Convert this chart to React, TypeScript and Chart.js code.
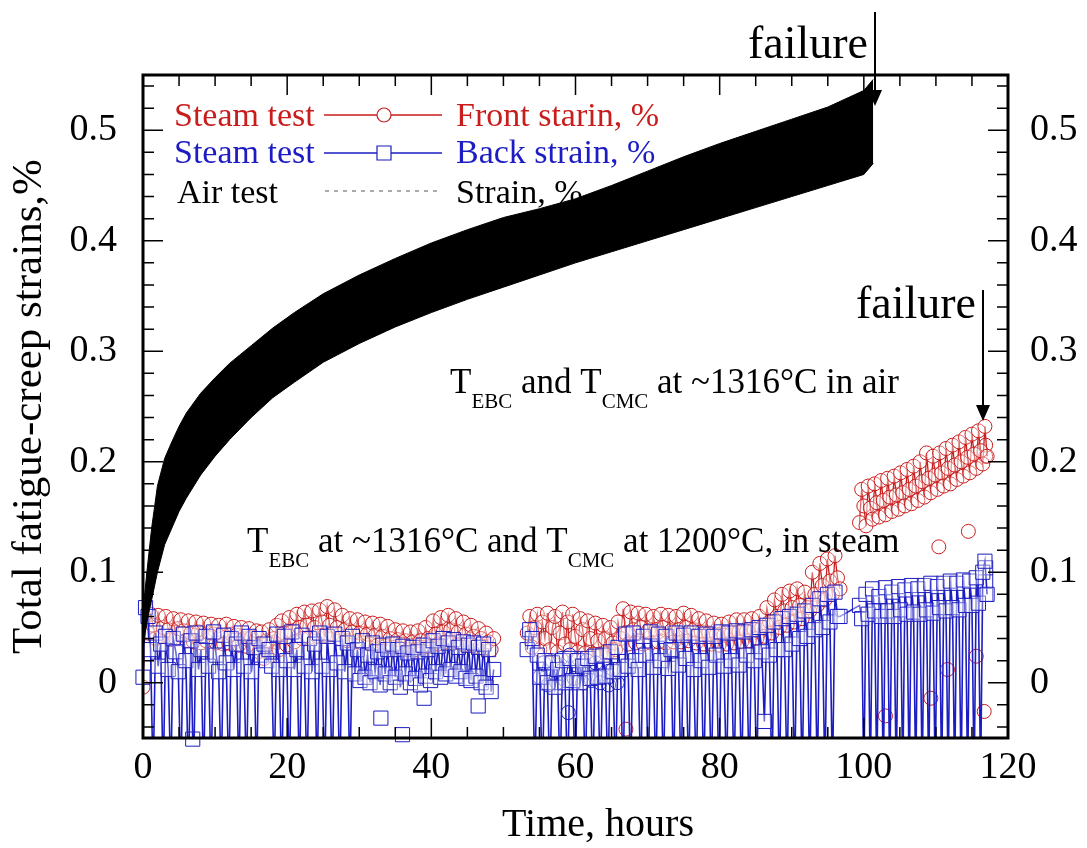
import React, { useEffect, useRef } from 'react';
import { Chart, registerables } from 'chart.js';

Chart.register(...registerables);

const SERIF = "'Liberation Serif', 'Times New Roman', Times, serif";
const RED = '#c91d1d';
const BLUE = '#1c1cc2';
const D = -0.09; // back-strain readings that fall below the plotted range

// ---- axes ----
const xTickLabels = [0, 20, 40, 60, 80, 100, 120];
const yTickLabels = [0, 0.1, 0.2, 0.3, 0.4, 0.5];
const xTitle = 'Time, hours';
const yTitle = 'Total fatigue-creep strains,%';

// ---- legend ----
const legendLeft = ['Steam test', 'Steam test', 'Air test'];
const legendRight = ['Front starin, %', 'Back strain, %', 'Strain, %'];

// ---- air test (envelope of the strain cycles) ----
const airTimes = [0, 0.3, 0.7, 1.2, 2, 3, 4, 5, 6, 8,
  10, 12, 15, 18, 21, 25, 30, 35, 40, 45,
  50, 55, 60, 65, 70, 75, 80, 85, 90, 95,
  100, 101.3];
const airUpper = [0.06, 0.085, 0.11, 0.14, 0.178, 0.203, 0.218, 0.232, 0.244, 0.262,
  0.276, 0.289, 0.305, 0.321, 0.335, 0.352, 0.369, 0.384, 0.398, 0.41,
  0.421, 0.429, 0.438, 0.45, 0.463, 0.476, 0.488, 0.499, 0.51, 0.521,
  0.536, 0.546];
const airLower = [0.03, 0.045, 0.06, 0.075, 0.1, 0.125, 0.14, 0.155, 0.167, 0.188,
  0.205, 0.22, 0.24, 0.258, 0.272, 0.29, 0.307, 0.322, 0.335, 0.347,
  0.358, 0.369, 0.38, 0.39, 0.4, 0.41, 0.42, 0.43, 0.44, 0.45,
  0.46, 0.47];

// ---- steam test, segment A (0 - 48.7 h) ----
const steamTimesA = [0, 0.35, 0.7, 1.05, 1.4, 1.75, 2.1, 2.45, 2.8, 3.15,
  3.5, 3.85, 4.2, 4.55, 4.9, 5.25, 5.6, 5.95, 6.3, 6.65,
  7, 7.35, 7.7, 8.05, 8.4, 8.75, 9.1, 9.45, 9.8, 10.15,
  10.5, 10.85, 11.2, 11.55, 11.9, 12.25, 12.6, 12.95, 13.3, 13.65,
  14, 14.35, 14.7, 15.05, 15.4, 15.75, 16.1, 16.45, 16.8, 17.15,
  17.5, 17.85, 18.2, 18.55, 18.9, 19.25, 19.6, 19.95, 20.3, 20.65,
  21, 21.35, 21.7, 22.05, 22.4, 22.75, 23.1, 23.45, 23.8, 24.15,
  24.5, 24.85, 25.2, 25.55, 25.9, 26.25, 26.6, 26.95, 27.3, 27.65,
  28, 28.35, 28.7, 29.05, 29.4, 29.75, 30.1, 30.45, 30.8, 31.15,
  31.5, 31.85, 32.2, 32.55, 32.9, 33.25, 33.6, 33.95, 34.3, 34.65,
  35, 35.35, 35.7, 36.05, 36.4, 36.75, 37.1, 37.45, 37.8, 38.15,
  38.5, 38.85, 39.2, 39.55, 39.9, 40.25, 40.6, 40.95, 41.3, 41.65,
  42, 42.35, 42.7, 43.05, 43.4, 43.75, 44.1, 44.45, 44.8, 45.15,
  45.5, 45.85, 46.2, 46.55, 46.9, 47.25, 47.6, 47.95, 48.3, 48.65];
const frontA = [-0.004, 0.068, 0.045, 0.062, 0.052, 0.040, 0.061, 0.042, 0.050, 0.060,
  0.048, 0.039, 0.058, 0.040, 0.049, 0.057, 0.047, 0.038, 0.056, 0.045,
  0.037, 0.055, 0.046, 0.036, 0.054, 0.038, 0.045, 0.053, 0.044, 0.036,
  0.052, 0.043, 0.035, 0.053, 0.036, 0.044, 0.051, 0.043, 0.034, 0.050,
  0.040, 0.033, 0.049, 0.041, 0.031, 0.047, 0.028, 0.046, 0.022, 0.038,
  0.048, 0.025, 0.040, 0.052, 0.030, 0.056, 0.045, 0.034, 0.059, 0.046,
  0.037, 0.062, 0.050, 0.040, 0.064, 0.052, 0.041, 0.065, 0.050, 0.042,
  0.066, 0.055, 0.043, 0.069, 0.052, 0.044, 0.066, 0.050, 0.040, 0.061,
  0.048, 0.038, 0.058, 0.046, 0.037, 0.057, 0.045, 0.036, 0.055, 0.044,
  0.035, 0.054, 0.043, 0.034, 0.053, 0.042, 0.033, 0.051, 0.040, 0.032,
  0.048, 0.039, 0.031, 0.047, 0.038, 0.030, 0.046, 0.037, 0.030, 0.047,
  0.038, 0.032, 0.050, 0.040, 0.033, 0.056, 0.044, 0.035, 0.059, 0.046,
  0.037, 0.061, 0.048, 0.036, 0.058, 0.046, 0.035, 0.055, 0.044, 0.034,
  0.052, 0.042, 0.033, 0.049, 0.040, 0.031, 0.045, 0.037, 0.030, 0.040];
const backA = [0.005, 0.068, 0.060, 0.030, D, 0.045, 0.015, 0.035, D, 0.042,
  0.012, D, 0.040, 0.028, 0.010, D, 0.044, 0.020, D, 0.038,
  D, 0.045, 0.012, 0.030, D, 0.042, 0.015, D, 0.046, 0.025,
  0.010, D, 0.043, 0.018, D, 0.040, 0.012, 0.035, D, 0.045,
  0.015, D, 0.042, 0.010, 0.032, D, 0.040, 0.025, 0.035, 0.020,
  0.030, 0.015, D, 0.044, 0.012, D, 0.042, 0.020, D, 0.046,
  0.012, 0.030, D, 0.043, 0.015, D, 0.040, 0.010, 0.035, D,
  0.045, 0.015, D, 0.042, 0.012, D, 0.044, 0.018, D, 0.040,
  0.010, 0.036, D, 0.042, 0.008, 0.030, 0.002, 0.038, 0.005, 0.025,
  0.000, 0.036, 0.010, 0.028, -0.002, 0.034, 0.008, 0.030, 0.000, 0.035,
  0.005, 0.030, -0.004, 0.033, 0.008, 0.027, 0.000, 0.032, 0.004, 0.028,
  -0.002, 0.034, 0.006, 0.030, 0.002, 0.038, 0.010, 0.033, 0.005, 0.040,
  0.008, 0.036, 0.012, 0.039, 0.006, 0.032, 0.010, 0.037, 0.004, 0.034,
  0.002, 0.036, 0.006, 0.032, 0.000, 0.035, -0.004, 0.030, -0.008, 0.012];

// ---- steam test, segment B (53.3 - 96.7 h) ----
const steamTimesB = [53.3, 53.65, 54, 54.35, 54.7, 55.05, 55.4, 55.75, 56.1, 56.45,
  56.8, 57.15, 57.5, 57.85, 58.2, 58.55, 58.9, 59.25, 59.6, 59.95,
  60.3, 60.65, 61, 61.35, 61.7, 62.05, 62.4, 62.75, 63.1, 63.45,
  63.8, 64.15, 64.5, 64.85, 65.2, 65.55, 65.9, 66.25, 66.6, 66.95,
  67.3, 67.65, 68, 68.35, 68.7, 69.05, 69.4, 69.75, 70.1, 70.45,
  70.8, 71.15, 71.5, 71.85, 72.2, 72.55, 72.9, 73.25, 73.6, 73.95,
  74.3, 74.65, 75, 75.35, 75.7, 76.05, 76.4, 76.75, 77.1, 77.45,
  77.8, 78.15, 78.5, 78.85, 79.2, 79.55, 79.9, 80.25, 80.6, 80.95,
  81.3, 81.65, 82, 82.35, 82.7, 83.05, 83.4, 83.75, 84.1, 84.45,
  84.8, 85.15, 85.5, 85.85, 86.2, 86.55, 86.9, 87.25, 87.6, 87.95,
  88.3, 88.65, 89, 89.35, 89.7, 90.05, 90.4, 90.75, 91.1, 91.45,
  91.8, 92.15, 92.5, 92.85, 93.2, 93.55, 93.9, 94.25, 94.6, 94.95,
  95.3, 95.65, 96, 96.35, 96.7];
const frontB = [0.045, 0.060, 0.032, 0.050, 0.062, 0.030, 0.055, 0.040, 0.063, 0.030,
  0.050, 0.060, 0.028, 0.045, 0.064, 0.035, 0.055, 0.030, 0.062, 0.042,
  0.028, 0.058, 0.048, 0.027, 0.056, 0.040, 0.026, 0.054, 0.038, 0.025,
  0.052, 0.040, 0.027, 0.050, 0.036, 0.030, 0.055, 0.040, 0.067, 0.045,
  0.035, 0.064, 0.048, 0.036, 0.063, 0.050, 0.035, 0.062, 0.047, 0.036,
  0.060, 0.048, 0.037, 0.062, 0.050, 0.036, 0.061, 0.047, 0.037, 0.060,
  0.048, 0.037, 0.063, 0.050, 0.038, 0.061, 0.048, 0.036, 0.058, 0.046,
  0.035, 0.056, 0.045, 0.035, 0.054, 0.044, 0.034, 0.053, 0.043, 0.035,
  0.055, 0.045, 0.036, 0.057, 0.046, 0.037, 0.057, 0.047, 0.038, 0.058,
  0.048, 0.040, 0.060, 0.050, 0.042, 0.068, 0.055, 0.045, 0.075, 0.060,
  0.050, 0.080, 0.065, 0.052, 0.083, 0.068, 0.055, 0.085, 0.070, 0.058,
  0.082, 0.068, 0.065, 0.100, 0.080, 0.070, 0.108, 0.088, 0.075, 0.112,
  0.092, 0.080, 0.115, 0.095, 0.085];
const backB = [0.030, 0.048, 0.040, D, 0.025, 0.005, D, 0.020, 0.000, D,
  0.018, -0.004, 0.012, D, 0.020, 0.000, D, 0.022, 0.002, D,
  0.020, 0.000, 0.015, D, 0.022, 0.004, D, 0.024, 0.005, D,
  0.025, 0.006, D, 0.028, 0.010, D, 0.032, 0.012, D, 0.044,
  0.015, D, 0.045, 0.020, 0.012, D, 0.042, 0.025, D, 0.046,
  0.014, D, 0.044, 0.020, D, 0.042, 0.013, 0.030, D, 0.045,
  0.016, D, 0.043, 0.022, D, 0.045, 0.012, D, 0.042, 0.020,
  D, 0.044, 0.014, D, 0.042, 0.025, D, 0.046, 0.015, D,
  0.045, 0.020, D, 0.047, 0.016, D, 0.046, 0.025, D, 0.048,
  0.020, D, 0.050, 0.028, -0.035, 0.052, 0.025, D, 0.055, 0.030,
  D, 0.058, 0.030, D, 0.060, 0.035, D, 0.062, 0.040, D,
  0.065, 0.042, D, 0.070, 0.048, D, 0.076, 0.050, D, 0.080,
  0.055, D, 0.082, 0.060, 0.060];

// ---- steam test, segment C (99.4 - 117.1 h) ----
const steamTimesC = [99.4, 99.7, 100, 100.3, 100.6, 100.9, 101.2, 101.5, 101.8, 102.1,
  102.4, 102.7, 103, 103.3, 103.6, 103.9, 104.2, 104.5, 104.8, 105.1,
  105.4, 105.7, 106, 106.3, 106.6, 106.9, 107.2, 107.5, 107.8, 108.1,
  108.4, 108.7, 109, 109.3, 109.6, 109.9, 110.2, 110.5, 110.8, 111.1,
  111.4, 111.7, 112, 112.3, 112.6, 112.9, 113.2, 113.5, 113.8, 114.1,
  114.4, 114.7, 115, 115.3, 115.6, 115.9, 116.2, 116.5, 116.8, 117.1];
const frontC = [0.145, 0.175, 0.160, 0.142, 0.178, 0.158, 0.148, 0.180, 0.163, 0.150,
  0.183, 0.165, 0.152, 0.185, 0.168, 0.155, 0.187, 0.170, 0.157, 0.190,
  0.172, 0.160, 0.193, 0.175, 0.162, 0.196, 0.178, 0.165, 0.200, 0.182,
  0.168, 0.208, 0.185, 0.172, 0.205, 0.188, 0.175, 0.208, 0.190, 0.178,
  0.212, 0.194, 0.180, 0.215, 0.197, 0.184, 0.218, 0.200, 0.187, 0.222,
  0.204, 0.190, 0.225, 0.207, 0.194, 0.228, 0.210, 0.198, 0.232, 0.205];
const backC = [0.070, 0.058, D, 0.080, 0.062, D, 0.085, 0.065, D, 0.078,
  0.060, D, 0.086, 0.065, D, 0.082, 0.060, D, 0.087, 0.066,
  D, 0.084, 0.062, D, 0.088, 0.064, D, 0.085, 0.062, D,
  0.088, 0.066, D, 0.090, 0.063, D, 0.087, 0.068, D, 0.090,
  0.065, D, 0.092, 0.068, D, 0.090, 0.066, D, 0.093, 0.070,
  D, 0.092, 0.070, D, 0.095, 0.072, D, 0.100, 0.110, 0.080];

// ---- isolated points ----
const frontOutlierTimes = [67.0, 103.0, 109.3, 110.4, 111.6, 114.5, 115.6, 116.7, 116.9, 116.9];
const frontOutlierValues = [-0.042, -0.030, -0.014, 0.123, 0.012, 0.137, 0.024, -0.026, 0.205, 0.215];
const backOutlierTimes = [6.9, 33.0, 36.0, 39.0, 46.5, 116.9, 116.9, 116.9];
const backOutlierValues = [-0.051, -0.032, -0.047, -0.014, -0.021, 0.080, 0.092, 0.104];
const backCircleTimes = [55.0, 55.6, 56.2, 56.8, 57.4, 58.0, 58.6, 59.2, 59.8, 60.4,
  61.0, 61.6, 62.2, 62.8, 63.4, 64.0, 64.6, 65.2, 65.8];
const backCircleValues = [0.005, 0.018, -0.002, 0.020, 0.000, 0.022, 0.002, 0.025, 0.004, 0.022,
  0.000, 0.020, 0.002, 0.018, 0.000, 0.016, -0.002, 0.012, 0.000];
const backCircleLowTimes = [59.0];
const backCircleLowValues = [-0.027];

// ---- annotations ----
const failureLabel = 'failure';
const annotAir = [
  { t: 'T' }, { t: 'EBC', sub: true }, { t: ' and T' }, { t: 'CMC', sub: true }, { t: ' at ~1316°C in air' },
];
const annotSteam = [
  { t: 'T' }, { t: 'EBC', sub: true }, { t: ' at ~1316°C and T' }, { t: 'CMC', sub: true }, { t: ' at 1200°C, in steam' },
];

type Pt = { x: number; y: number | null };
const toPts = (ts: number[], vs: number[]): Pt[] => ts.map((t, i) => ({ x: t, y: vs[i] }));

function drawRich(ctx: CanvasRenderingContext2D, parts: { t: string; sub?: boolean }[], x: number, y: number, size: number) {
  let cx = x;
  for (const p of parts) {
    const s = p.sub ? size * 0.6 : size;
    ctx.font = `${s}px ${SERIF}`;
    ctx.fillText(p.t, cx, p.sub ? y + size * 0.42 : y);
    cx += ctx.measureText(p.t).width;
  }
}

function drawArrow(ctx: CanvasRenderingContext2D, x: number, y0: number, y1: number) {
  ctx.beginPath();
  ctx.lineWidth = 2;
  ctx.moveTo(x, y0);
  ctx.lineTo(x, y1 - 14);
  ctx.stroke();
  ctx.beginPath();
  ctx.moveTo(x - 7, y1 - 16);
  ctx.lineTo(x + 7, y1 - 16);
  ctx.lineTo(x, y1);
  ctx.closePath();
  ctx.fill();
}

const overlayPlugin = {
  id: 'overlay',
  afterDraw(chart: any) {
    const ctx: CanvasRenderingContext2D = chart.ctx;
    const { left, right, top, bottom } = chart.chartArea;
    const xs = chart.scales.x;
    const ys = chart.scales.y;
    ctx.save();
    ctx.strokeStyle = '#000';
    ctx.fillStyle = '#000';
    // inward ticks
    ctx.lineWidth = 1.5;
    for (let i = 0; i <= 24; i++) {
      const px = xs.getPixelForValue(i * 5);
      const len = i % 4 === 0 ? 20 : 11;
      ctx.beginPath();
      ctx.moveTo(px, bottom); ctx.lineTo(px, bottom - len);
      ctx.moveTo(px, top); ctx.lineTo(px, top + len);
      ctx.stroke();
    }
    for (let i = -2; i <= 27; i++) {
      const py = ys.getPixelForValue(i * 0.02);
      const len = i % 5 === 0 ? 20 : 11;
      ctx.beginPath();
      ctx.moveTo(left, py); ctx.lineTo(left + len, py);
      ctx.moveTo(right, py); ctx.lineTo(right - len, py);
      ctx.stroke();
    }
    // frame
    ctx.lineWidth = 3;
    ctx.strokeRect(left, top, right - left, bottom - top);

    // x-axis title
    ctx.font = `40px ${SERIF}`;
    ctx.textAlign = 'center';
    ctx.textBaseline = 'alphabetic';
    ctx.fillText(xTitle, 598, 836);

    // legend
    ctx.textAlign = 'left';
    const rows = [
      { color: RED, base: 126, lineY: 115, marker: 'circle', lx: 174 },
      { color: BLUE, base: 163, lineY: 153, marker: 'rect', lx: 174 },
      { color: '#000', base: 203, lineY: 191, marker: 'dash', lx: 177 },
    ];
    rows.forEach((r, i) => {
      ctx.fillStyle = r.color;
      ctx.font = `34px ${SERIF}`;
      ctx.fillText(legendLeft[i], r.lx, r.base);
      ctx.fillText(legendRight[i], 456, r.base);
      ctx.strokeStyle = r.color;
      if (r.marker === 'dash') {
        ctx.save();
        ctx.strokeStyle = '#555';
        ctx.lineWidth = 1;
        ctx.setLineDash([4, 5]);
        ctx.beginPath(); ctx.moveTo(325, r.lineY); ctx.lineTo(442, r.lineY); ctx.stroke();
        ctx.restore();
      } else {
        ctx.lineWidth = 1.5;
        ctx.beginPath(); ctx.moveTo(324, r.lineY); ctx.lineTo(442, r.lineY); ctx.stroke();
        ctx.fillStyle = '#fff';
        ctx.lineWidth = 1.2;
        ctx.beginPath();
        if (r.marker === 'circle') ctx.arc(384, r.lineY, 7, 0, Math.PI * 2);
        else ctx.rect(377, r.lineY - 7, 14, 14);
        ctx.fill(); ctx.stroke();
      }
    });

    // annotations
    ctx.fillStyle = '#000';
    ctx.strokeStyle = '#000';
    drawRich(ctx, annotAir, 450, 393, 35);
    drawRich(ctx, annotSteam, 247, 552, 35);
    ctx.font = `46px ${SERIF}`;
    ctx.textAlign = 'right';
    ctx.fillText(failureLabel, 868, 58);
    ctx.fillText(failureLabel, 976, 318);
    ctx.textAlign = 'left';
    drawArrow(ctx, 875, 12, 106);
    drawArrow(ctx, 983, 290, 421);
    ctx.restore();
  },
};

export default function App() {
  const ref = useRef<HTMLCanvasElement>(null);
  useEffect(() => {
    const gap = (t: number): Pt => ({ x: t, y: null });
    const frontData: Pt[] = [
      ...toPts(steamTimesA, frontA), gap(51), ...toPts(steamTimesB, frontB), gap(98), ...toPts(steamTimesC, frontC),
    ];
    const backData: Pt[] = [
      ...toPts(steamTimesA, backA), gap(51), ...toPts(steamTimesB, backB), ...toPts(steamTimesC, backC),
    ];
    const tickFont = { family: SERIF, size: 38, lineHeight: 1 };
    const yCallback = (v: any) => (v === 0 ? '0' : Number(v).toFixed(1));
    const setYTicks = (s: any) => { s.ticks = yTickLabels.map((v) => ({ value: v })); };
    const clear = 'rgba(255,255,255,0.35)';

    const chart = new Chart(ref.current as HTMLCanvasElement, {
      type: 'line',
      data: {
        datasets: [
          {
            data: toPts(airTimes, airUpper), borderColor: '#000', backgroundColor: '#000', borderWidth: 1,
            pointRadius: 0, fill: '+1', order: 0, tension: 0,
          } as any,
          {
            data: toPts(airTimes, airLower), borderColor: '#000', borderWidth: 1,
            pointRadius: 0, fill: false, order: 0, tension: 0,
          },
          {
            data: backData, borderColor: BLUE, borderWidth: 1.6, pointStyle: 'rect', pointRadius: 10,
            pointBorderColor: BLUE, pointBackgroundColor: clear, pointBorderWidth: 1, order: 1,
            spanGaps: false, clip: { left: 12, right: 12, top: 12, bottom: 0 },
          } as any,
          {
            data: toPts(backOutlierTimes, backOutlierValues), showLine: false, pointStyle: 'rect', pointRadius: 10,
            pointBorderColor: BLUE, pointBackgroundColor: '#fff', pointBorderWidth: 1, order: 1, clip: 12,
          } as any,
          {
            data: [...toPts(backCircleTimes, backCircleValues), gap(58.5), ...toPts(backCircleLowTimes, backCircleLowValues)],
            borderColor: BLUE, borderWidth: 1, pointStyle: 'circle', pointRadius: 7,
            pointBorderColor: BLUE, pointBackgroundColor: clear, pointBorderWidth: 1, order: 1, spanGaps: false,
          } as any,
          {
            data: frontData, borderColor: RED, borderWidth: 1.3, pointStyle: 'circle', pointRadius: 7,
            pointBorderColor: RED, pointBackgroundColor: clear, pointBorderWidth: 1, order: 2, spanGaps: false,
          } as any,
          {
            data: toPts(frontOutlierTimes, frontOutlierValues), showLine: false, pointStyle: 'circle', pointRadius: 7,
            pointBorderColor: RED, pointBackgroundColor: '#fff', pointBorderWidth: 1, order: 2,
          } as any,
        ],
      },
      options: {
        animation: false,
        responsive: false,
        devicePixelRatio: 1,
        layout: { padding: { top: 75, left: 0, right: 0, bottom: 0 } },
        plugins: { legend: { display: false }, tooltip: { enabled: false } },
        elements: { line: { tension: 0 } },
        scales: {
          x: {
            type: 'linear', position: 'bottom', min: 0, max: 120,
            afterBuildTicks: (s: any) => { s.ticks = xTickLabels.map((v) => ({ value: v })); },
            afterFit: (s: any) => { s.height = 110; },
            grid: { display: false, drawTicks: false }, border: { display: false },
            ticks: { font: tickFont, color: '#000', padding: 11, maxRotation: 0, autoSkip: false },
          },
          y: {
            type: 'linear', position: 'left', min: -0.05, max: 0.55,
            afterBuildTicks: setYTicks,
            afterFit: (s: any) => { s.width = 143; },
            grid: { display: false, drawTicks: false }, border: { display: false },
            ticks: { font: tickFont, color: '#000', padding: 26, callback: yCallback },
            title: { display: true, text: yTitle, color: '#000', font: { family: SERIF, size: 43, lineHeight: 1 }, padding: { top: 8, bottom: 0 } },
          },
          y2: {
            type: 'linear', position: 'right', min: -0.05, max: 0.55,
            afterBuildTicks: setYTicks,
            afterFit: (s: any) => { s.width = 79; },
            grid: { display: false, drawTicks: false }, border: { display: false },
            ticks: { font: tickFont, color: '#000', padding: 22, callback: yCallback },
          },
        },
      } as any,
      plugins: [overlayPlugin],
    });
    return () => chart.destroy();
  }, []);
  return (
    <div style={{ position: 'absolute', left: 0, top: 0, width: 1087, height: 848, background: '#fff' }}>
      <canvas ref={ref} width={1087} height={848} style={{ display: 'block' }} />
    </div>
  );
}
